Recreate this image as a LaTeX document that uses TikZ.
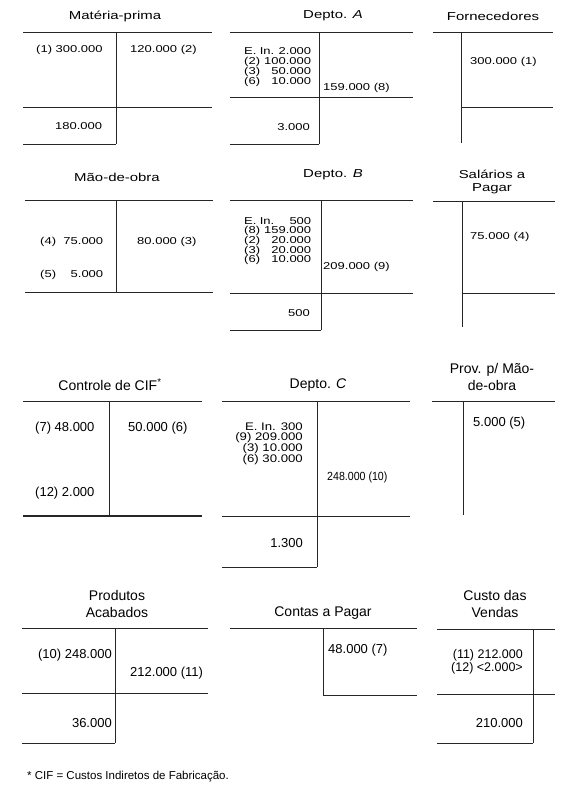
\documentclass[tikz,border=0pt]{standalone}
\usepackage{fontspec}
\setmainfont{Liberation Sans}
\newfontfamily\scanfont[FakeStretch=1.3]{Liberation Sans}
\newfontfamily\midfont[FakeStretch=1.2]{Liberation Sans}
\newfontfamily\narrowfont[FakeStretch=0.9]{Liberation Sans}
\usepackage{tikz}

\begin{document}
\begin{tikzpicture}[
  x=1pt, y=-1pt,
  acc/.style={line width=0.9pt, draw=black!85},
  ttl/.style={font=\scanfont\fontsize{11.5}{13}\selectfont, inner sep=0pt, align=center},
  val/.style={font=\scanfont\fontsize{10}{10}\selectfont, inner sep=0pt},
  ttlb/.style={font=\fontsize{14}{17}\selectfont, inner sep=0pt, align=center},
  valb/.style={font=\fontsize{13}{10}\selectfont, inner sep=0pt}
]
\useasboundingbox (0,0) rectangle (562,794);

% Materia-prima
\node[ttl] (mp_t) at (115,16) {Matéria-prima};
\draw[acc] (23,32) -- (212,32) (116,32) -- (116,144) (23,107) -- (212,107) (23,144) -- (116,144);
\node[val, anchor=west] (mp_d) at (36,50) {(1) 300.000};
\node[val, anchor=west] (mp_c) at (130,50) {120.000 (2)};
\node[val, anchor=west] (mp_s) at (55,126) {180.000};

% Depto. A
\node[ttl] (da_t) at (333,16) {Depto. \textit{A}};
\draw[acc] (230,32) -- (413,32) (319,32) -- (319,144) (230,97) -- (413,97) (230,144) -- (319,144);
\node[val, anchor=west, text width=67pt, align=left] (da_d) at (244,67)
  {E. In.\hfill 2.000\\(2)\hfill 100.000\\(3)\hfill 50.000\\(6)\hfill 10.000};
\node[val, anchor=west] (da_c) at (323,88) {159.000 (8)};
\node[val, anchor=east] (da_s) at (310,127) {3.000};

% Fornecedores
\node[ttl] (fo_t) at (493,16) {Fornecedores};
\draw[acc] (433,32) -- (553,32) (461,32) -- (461,143) (461,107) -- (553,107);
\node[val, anchor=west] (fo_c) at (470,62) {300.000 (1)};

% Mao-de-obra
\node[ttl] (mo_t) at (117,177) {Mão-de-obra};
\draw[acc] (25,200) -- (213,200) (116,200) -- (116,292) (25,292) -- (213,292);
\node[val, anchor=west, text width=63pt, align=left] (mo_d1) at (40,242) {(4)\hfill 75.000};
\node[val, anchor=west, text width=63pt, align=left] (mo_d2) at (40,275) {(5)\hfill 5.000};
\node[val, anchor=west] (mo_c) at (137,242) {80.000 (3)};

% Depto. B
\node[ttl] (db_t) at (333,175) {Depto. \textit{B}};
\draw[acc] (230,200) -- (413,200) (321,200) -- (321,330) (230,293) -- (413,293) (230,330) -- (321,330);
\node[val, font=\scanfont\fontsize{10}{9.6}\selectfont, anchor=west, text width=67pt, align=left] (db_d) at (244,241)
  {E. In.\hfill 500\\(8)\hfill 159.000\\(2)\hfill 20.000\\(3)\hfill 20.000\\(6)\hfill 10.000};
\node[val, anchor=west] (db_c) at (323,267) {209.000 (9)};
\node[val, anchor=east] (db_s) at (310,313) {500};

% Salarios a Pagar
\node[ttl] (sp_t) at (492,181.5) {Salários a\\Pagar};
\draw[acc] (433,201) -- (555,201) (462,201) -- (462,327) (462,293) -- (555,293);
\node[val, anchor=west] (sp_c) at (470,237) {75.000 (4)};

% Controle de CIF
\node[ttlb] (cif_t) at (110,385) {Controle de CIF\textsuperscript{*}};
\draw[acc] (23,401) -- (202,401) (109,401) -- (109,515);
\draw[acc, line width=1.3pt] (23,516) -- (202,516);
\node[valb, anchor=west] (cif_d1) at (35,428) {(7) 48.000};
\node[valb, anchor=west] (cif_c) at (128,428) {50.000 (6)};
\node[valb, anchor=west] (cif_d2) at (35,493) {(12) 2.000};

% Depto. C
\node[ttlb] (dc_t) at (318,385) {Depto. \textit{C}};
\draw[acc] (222,401) -- (410,401) (317,401) -- (317,567) (222,516) -- (410,516) (222,567) -- (317,567);
\node[valb, font=\midfont\fontsize{11}{10}\selectfont, anchor=east, align=right] (dc_d) at (303,444)
  {E. In. 300\\(9) 209.000\\(3) 10.000\\(6) 30.000};
\node[valb, font=\narrowfont\fontsize{11.8}{10}\selectfont, anchor=west] (dc_c) at (327,477) {248.000 (10)};
\node[valb, anchor=east] (dc_s) at (303,543) {1.300};

% Prov. p/ Mao-de-obra
\node[ttlb] (pm_t) at (492,376.5) {Prov. p/ Mão-\\de-obra};
\draw[acc] (432,401) -- (555,401) (463,401) -- (463,515);
\node[valb, anchor=west] (pm_c) at (473,423) {5.000 (5)};

% Produtos Acabados
\node[ttlb] (pa_t) at (117,604) {Produtos\\Acabados};
\draw[acc] (22,628) -- (208,628) (115,628) -- (115,743) (22,693) -- (208,693) (22,743) -- (115,743);
\node[valb, anchor=east] (pa_d) at (112,655) {(10) 248.000};
\node[valb, anchor=west] (pa_c) at (130,673) {212.000 (11)};
\node[valb, anchor=east] (pa_s) at (112,723) {36.000};

% Contas a Pagar
\node[ttlb] (cp_t) at (323,613) {Contas a Pagar};
\draw[acc] (230,628) -- (417,628) (323,628) -- (323,695) (323,695) -- (417,695);
\node[valb, anchor=west] (cp_c) at (328,650) {48.000 (7)};

% Custo das Vendas
\node[ttlb] (cv_t) at (495,604) {Custo das\\Vendas};
\draw[acc] (437,629) -- (555,629) (533,629) -- (533,743) (437,694) -- (555,694) (437,743) -- (533,743);
\node[valb, font=\fontsize{12.5}{10}\selectfont, anchor=east, align=right] (cv_d) at (523,662)
  {(11) 212.000\\(12) <2.000>};
\node[valb, anchor=east] (cv_s) at (523,723) {210.000};

% footnote
\node[font=\fontsize{11.5}{13}\selectfont, inner sep=0pt, anchor=west] (note) at (27,777)
  {* CIF = Custos Indiretos de Fabricação.};

\end{tikzpicture}
\end{document}
